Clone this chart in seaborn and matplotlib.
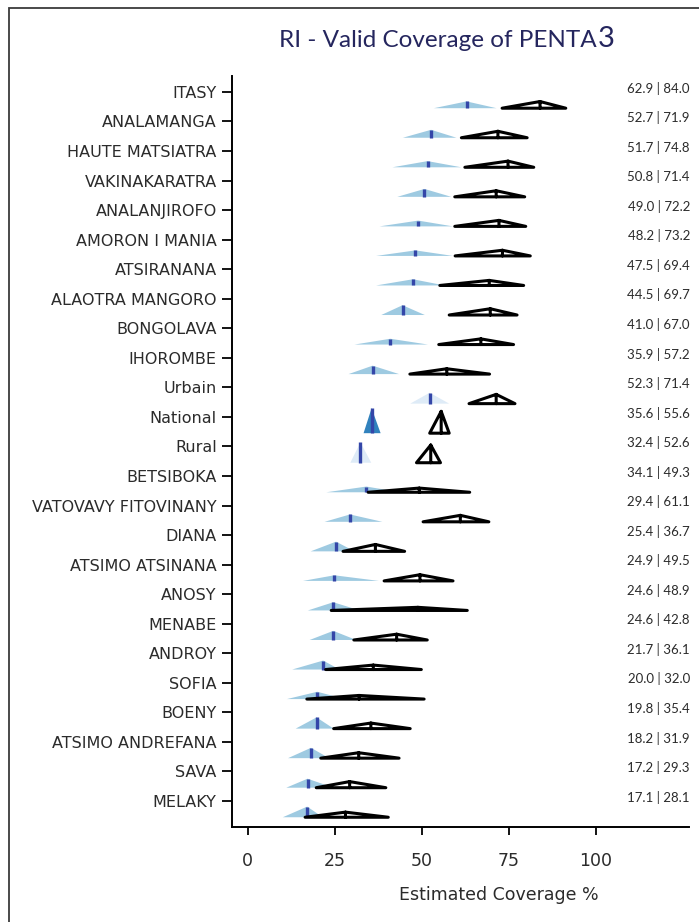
import matplotlib
matplotlib.use("Agg")
import matplotlib.pyplot as plt
from matplotlib import font_manager
from matplotlib.patches import Rectangle
import numpy as np
import pandas as pd
import seaborn as sns

# Areas, top to bottom
regions = [
    "ITASY", "ANALAMANGA", "HAUTE MATSIATRA", "VAKINAKARATRA", "ANALANJIROFO",
    "AMORON I MANIA", "ATSIRANANA", "ALAOTRA MANGORO", "BONGOLAVA", "IHOROMBE",
    "Urbain", "National", "Rural", "BETSIBOKA", "VATOVAVY FITOVINANY", "DIANA",
    "ATSIMO ATSINANA", "ANOSY", "MENABE", "ANDROY", "SOFIA", "BOENY",
    "ATSIMO ANDREFANA", "SAVA", "MELAKY",
]
kind = ["region"] * 10 + ["urban", "national", "rural"] + ["region"] * 12

# Valid coverage estimate and its interval (%)
valid = [62.9, 52.7, 51.7, 50.8, 49.0, 48.2, 47.5, 44.5, 41.0, 35.9, 52.3, 35.6, 32.4,
         34.1, 29.4, 25.4, 24.9, 24.6, 24.6, 21.7, 20.0, 19.8, 18.2, 17.2, 17.1]
valid_lo = [53.5, 44.6, 41.6, 43.0, 37.9, 36.9, 36.9, 38.4, 30.7, 29.0, 46.7, 33.3, 29.5,
            22.6, 22.1, 18.1, 15.9, 17.3, 17.8, 12.8, 11.3, 13.8, 11.6, 11.1, 10.1]
valid_hi = [71.5, 60.0, 61.4, 58.5, 59.0, 59.0, 56.6, 50.9, 51.8, 43.5, 57.9, 38.2, 35.5,
            44.0, 38.7, 30.7, 37.7, 32.2, 31.2, 26.4, 28.0, 24.7, 23.4, 24.7, 21.6]

# Crude coverage estimate and its interval (%)
crude = [84.0, 71.9, 74.8, 71.4, 72.2, 73.2, 69.4, 69.7, 67.0, 57.2, 71.4, 55.6, 52.6,
         49.3, 61.1, 36.7, 49.5, 48.9, 42.8, 36.1, 32.0, 35.4, 31.9, 29.3, 28.1]
crude_lo = [73.1, 61.4, 62.4, 59.5, 59.5, 59.6, 55.2, 57.9, 54.9, 46.6, 63.6, 52.3, 48.5,
            34.6, 50.4, 27.4, 39.2, 24.0, 30.5, 22.4, 17.0, 24.7, 21.0, 19.7, 16.5]
crude_hi = [91.4, 80.3, 82.2, 79.6, 79.9, 81.2, 79.3, 77.4, 76.4, 69.5, 76.8, 57.9, 55.4,
            63.8, 69.3, 45.1, 59.0, 63.1, 51.6, 49.9, 50.7, 46.7, 43.5, 39.7, 40.4]

x_ticks = [0, 25, 50, 75, 100]

sns.set_theme(style="ticks")
installed = {f.name for f in font_manager.fontManager.ttflist}


def pick(*names):
    for name in names:
        if name in installed:
            return name
    return "DejaVu Sans"


narrow = pick("Liberation Sans Narrow", "Lato", "Roboto")
plt.rcParams["font.family"] = ["DejaVu Sans"]

fill_colors = {"region": "#9ecae1", "urban": "#deebf7", "rural": "#deebf7",
               "national": "#3182bd"}
text_color = "#2b2b2b"

fig = plt.figure(figsize=(6.99, 9.22), dpi=100)
ax = fig.add_axes([232 / 699, 1 - 827 / 922, 457 / 699, 751 / 922])

n = len(regions)
rows = np.arange(n)
base = rows + 0.55
spread = 2.07  # triangle area (row units x percentage points)


def peak_height(lo, hi):
    return spread * 2.0 / (np.asarray(hi) - np.asarray(lo))


hv = peak_height(valid_lo, valid_hi)
hc = peak_height(crude_lo, crude_hi)

# Valid coverage: filled triangles with a marker line at the estimate
for i in range(n):
    ax.fill([valid_lo[i], valid[i], valid_hi[i]],
            [base[i], base[i] - hv[i], base[i]],
            color=fill_colors[kind[i]], lw=0, zorder=2)
ax.vlines(valid, base, base - hv, color="#3446a8", lw=2.4, zorder=3)

# Crude coverage: outlined triangles traced as one path per row
records = []
for i in range(n):
    top = base[i] - hc[i]
    path = [(crude[i], top), (crude[i], base[i]), (crude_lo[i], base[i]),
            (crude[i], top), (crude_hi[i], base[i]), (crude[i], base[i])]
    for k, (px, py) in enumerate(path):
        records.append({"row": i, "step": k, "x": px, "y": py})
outline = pd.DataFrame(records)
sns.lineplot(data=outline, x="x", y="y", units="row", estimator=None, sort=False,
             color="black", lw=2.2, solid_joinstyle="round", ax=ax, zorder=4)

ax.set_xlim(-4.5, 126.8)
ax.set_ylim(24.88, -0.54)
ax.set_xticks(x_ticks)
ax.set_xticklabels([str(t) for t in x_ticks])
ax.set_yticks(rows)
ax.set_yticklabels(regions)
ax.set_xlabel("")
ax.set_ylabel("")
sns.despine(ax=ax)
for side in ("left", "bottom"):
    ax.spines[side].set_linewidth(1.4)
    ax.spines[side].set_color("black")
ax.tick_params(axis="y", length=7, width=1.3, pad=4, labelsize=11.5,
               labelcolor=text_color, color="black")
ax.tick_params(axis="x", length=6, width=1.3, pad=12, labelsize=12.5,
               labelcolor=text_color, color="black")

# Estimate pairs on the right edge
for i in range(n):
    ax.text(1.002, rows[i] - 0.13, f"{valid[i]:.1f} | {crude[i]:.1f}",
            transform=ax.get_yaxis_transform(), ha="right", va="center",
            fontsize=9.5, family=[narrow, "DejaVu Sans"], color=text_color)

fig.text(499 / 699, 1 - 895 / 922, "Estimated Coverage %", ha="center", va="center",
         fontsize=12.5, color=text_color)

title_y = 1 - 47 / 922
fig.text(597 / 699, title_y, "RI - Valid Coverage of PENTA", ha="right", va="baseline",
         fontsize=17.5, color="#25265e", family=[narrow, "DejaVu Sans"])
fig.text(598 / 699, title_y, "3", ha="left", va="baseline",
         fontsize=21, color="#25265e", family=[narrow, "DejaVu Sans"])

fig.patches.append(Rectangle((9 / 699, -0.1), 1.2, 1.1 - 8 / 922, transform=fig.transFigure,
                             fill=False, lw=1.3, ec="#3a3a3a"))

fig.savefig("out.png", dpi=100)
